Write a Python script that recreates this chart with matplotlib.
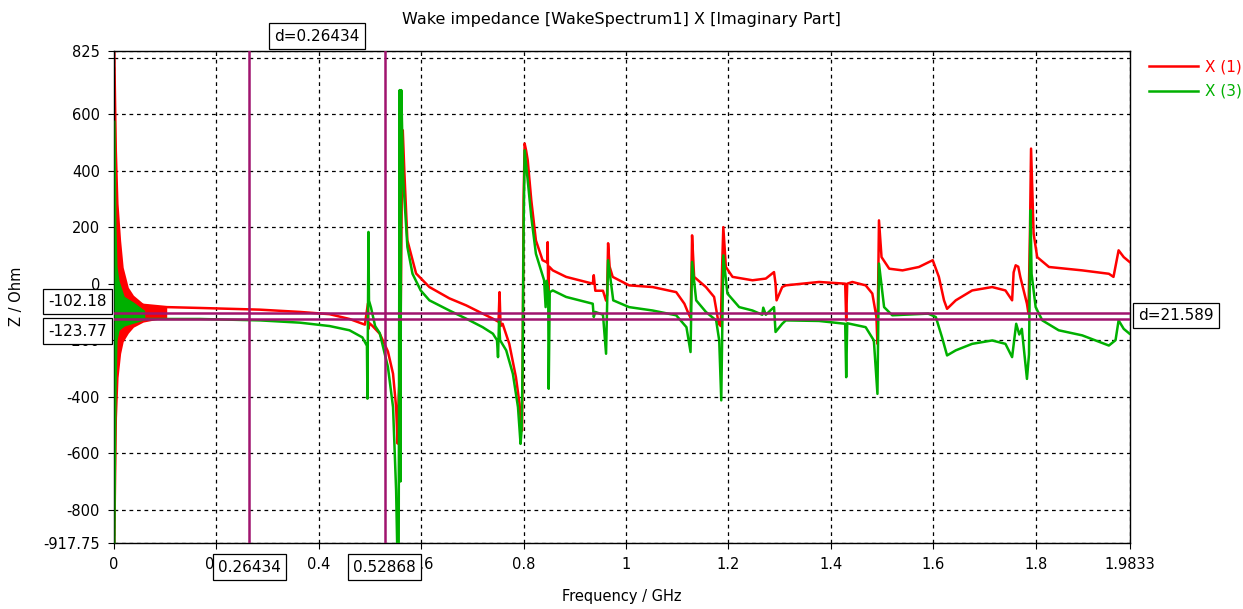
import matplotlib
matplotlib.use("Agg")
import matplotlib.pyplot as plt

# Near-zero ringing envelopes (GHz, Ohm)
red_band_f = [0.0, 0.002, 0.005, 0.008, 0.013, 0.018, 0.028, 0.038, 0.057, 0.08, 0.103]
red_band_hi = [825, 825, 472, 284, 153, 58, -13, -41, -70, -78, -83]
red_band_lo = [-917.75, -917.75, -474, -332, -247, -205, -175, -154, -136, -128, -122]

green_band_f = [0.0, 0.002, 0.004, 0.006, 0.01, 0.02, 0.038, 0.06]
green_band_hi = [579, 579, 200, 60, 10, -45, -65, -95]
green_band_lo = [-917.75, -917.75, -400, -200, -165, -150, -140, -128]

# X (1)
red_f = [0.057, 0.103, 0.168, 0.285, 0.363, 0.421, 0.46, 0.49, 0.496, 0.497, 0.499, 0.505,
         0.519, 0.535, 0.545, 0.551, 0.554, 0.556, 0.559, 0.562, 0.564, 0.567, 0.573, 0.590,
         0.616, 0.655, 0.688, 0.720, 0.740, 0.751, 0.753, 0.755, 0.759, 0.772, 0.785, 0.792,
         0.795, 0.797, 0.798, 0.800, 0.802, 0.805, 0.808, 0.815, 0.824, 0.837, 0.846, 0.847,
         0.848, 0.850, 0.857, 0.883, 0.935, 0.937, 0.940, 0.955, 0.961, 0.963, 0.965, 0.968,
         0.974, 1.006, 1.052, 1.098, 1.114, 1.122, 1.126, 1.128, 1.129, 1.133, 1.156, 1.172,
         1.181, 1.185, 1.188, 1.190, 1.195, 1.208, 1.247, 1.273, 1.289, 1.292, 1.294, 1.305,
         1.312, 1.377, 1.428, 1.430, 1.432, 1.442, 1.468, 1.481, 1.489, 1.491, 1.494, 1.499,
         1.514, 1.540, 1.572, 1.599, 1.611, 1.621, 1.627, 1.644, 1.676, 1.715, 1.741, 1.754,
         1.757, 1.761, 1.766, 1.770, 1.776, 1.783, 1.786, 1.789, 1.791, 1.796, 1.803, 1.826,
         1.891, 1.943, 1.952, 1.962, 1.972, 1.9833]
red_z = [-75, -83, -86, -92, -100, -108, -125, -145, -70, -160, -140, -150,
         -177, -240, -319, -437, -566, -400, -300, 300, 543, 400, 153, 36,
         -12, -52, -77, -106, -124, -135, -30, -150, -142, -213, -331, -425,
         -496, -520, -300, 300, 496, 470, 437, 295, 153, 83, 75, 147,
         -35, 60, 47, 24, 0, 30, -25, -25, -60, -40, 143, 60,
         24, -6, -12, -30, -71, -106, -120, 50, 171, 24, -12, -47,
         -142, -150, 80, 200, 59, 24, 12, 18, 41, 0, -59, -12,
         -6, 6, 0, -130, 0, 6, -6, -35, -118, -213, 224, 94,
         53, 47, 59, 83, 24, -59, -89, -59, -24, -12, -24, -59,
         40, 65, 60, 24, -20, -71, -106, 200, 478, 177, 94, 59,
         47, 35, 24, 118, 94, 77]

# X (3)
green_f = [0.057, 0.168, 0.285, 0.363, 0.421, 0.46, 0.485, 0.494, 0.495, 0.497, 0.498, 0.502,
           0.510, 0.519, 0.535, 0.545, 0.551, 0.553, 0.556, 0.558, 0.5595, 0.561, 0.565, 0.573,
           0.583, 0.599, 0.616, 0.655, 0.688, 0.720, 0.740, 0.748, 0.750, 0.752, 0.754, 0.766,
           0.779, 0.789, 0.794, 0.796, 0.798, 0.800, 0.802, 0.808, 0.815, 0.824, 0.840, 0.843,
           0.845, 0.848, 0.849, 0.851, 0.857, 0.883, 0.935, 0.937, 0.940, 0.955, 0.961, 0.965,
           0.975, 1.006, 1.052, 1.098, 1.118, 1.126, 1.129, 1.137, 1.156, 1.176, 1.182, 1.186,
           1.190, 1.198, 1.221, 1.247, 1.266, 1.268, 1.273, 1.289, 1.292, 1.305, 1.312, 1.377,
           1.428, 1.430, 1.432, 1.468, 1.484, 1.491, 1.494, 1.504, 1.520, 1.590, 1.605, 1.617,
           1.627, 1.644, 1.676, 1.715, 1.741, 1.754, 1.762, 1.768, 1.773, 1.783, 1.787, 1.790,
           1.792, 1.800, 1.813, 1.845, 1.891, 1.943, 1.956, 1.962, 1.972, 1.9833]
green_z = [-125, -125, -130, -138, -150, -165, -190, -220, -407, 183, -60, -85,
           -150, -175, -295, -437, -732, -917.75, -917.75, 685, -700, 685, 366, 130,
           35, -24, -59, -95, -124, -154, -177, -200, -260, -130, -200, -236,
           -319, -437, -567, -520, -300, 200, 472, 366, 236, 106, 12, -83,
           10, -20, -372, -30, -24, -47, -71, -118, -100, -110, -248, 83,
           -59, -83, -95, -112, -154, -242, 77, -59, -100, -130, -201, -413,
           100, -35, -83, -95, -110, -85, -110, -83, -171, -142, -130, -132,
           -142, -331, -140, -154, -201, -390, 71, -83, -112, -106, -118, -189,
           -254, -236, -213, -201, -213, -260, -142, -180, -160, -337, -250, 260,
           35, -83, -130, -165, -183, -219, -200, -130, -160, -177]

x_ticks = [0, 0.2, 0.4, 0.6, 0.8, 1.0, 1.2, 1.4, 1.6, 1.8, 1.9833]
x_labels = ["0", "0.2", "0.4", "0.6", "0.8", "1", "1.2", "1.4", "1.6", "1.8", "1.9833"]
y_ticks = [-917.75, -800, -600, -400, -200, 0, 200, 400, 600, 800, 825]
y_labels = ["-917.75", "-800", "-600", "-400", "-200", "0", "200", "400", "600", "", "825"]

marker_f = [0.26434, 0.52868]
marker_z = [-102.18, -123.77]
marker_f_labels = ["0.26434", "0.52868"]
marker_z_labels = ["-102.18", "-123.77"]
delta_f_label = "d=0.26434"
delta_z_label = "d=21.589"

RED = "#ff0000"
GREEN = "#00b000"
PURPLE = "#a0146e"

plt.rcParams["font.family"] = ["DejaVu Sans"]
plt.rcParams["font.size"] = 10

fig = plt.figure(figsize=(12.43, 6.09), dpi=100)
ax = fig.add_axes([0.0917, 0.1084, 0.8170, 0.8086])

ax.fill_between(red_band_f, red_band_lo, red_band_hi, color=RED, lw=0, zorder=2)
ax.plot(red_f, red_z, color=RED, lw=1.8, label="X (1)", zorder=3)
ax.fill_between(green_band_f, green_band_lo, green_band_hi, color=GREEN, lw=0, zorder=4)
ax.plot(green_f, green_z, color=GREEN, lw=1.8, label="X (3)", zorder=5)

for f in marker_f:
    ax.axvline(f, color=PURPLE, lw=1.8, zorder=6)
for z in marker_z:
    ax.axhline(z, color=PURPLE, lw=1.8, zorder=6)

ax.set_xlim(0, 1.9833)
ax.set_ylim(-917.75, 825)
ax.set_xticks(x_ticks)
ax.set_xticklabels(x_labels)
ax.set_yticks(y_ticks)
ax.set_yticklabels(y_labels)
ax.tick_params(direction="out", length=4, width=0.8, color="black", pad=6, labelsize=10.5)
ax.grid(True, color="black", linestyle=(0, (3, 3)), lw=0.9)
for s in ax.spines.values():
    s.set_linewidth(1.0)

ax.set_title("Wake impedance [WakeSpectrum1] X [Imaginary Part]", fontsize=11.5, pad=19)
ax.set_xlabel("Frequency / GHz", fontsize=10.5, labelpad=12)
ax.set_ylabel("Z / Ohm", fontsize=10.5, labelpad=14)

box = dict(boxstyle="square,pad=0.35", fc="white", ec="black", lw=0.9)
# d marker on top
ax.annotate(delta_f_label, xy=(sum(marker_f) / 2, 1), xycoords=("data", "axes fraction"),
            xytext=(0, 5), textcoords="offset points", ha="center", va="bottom",
            fontsize=11, bbox=box, annotation_clip=False, zorder=10)
# x marker labels
for f, lab in zip(marker_f, marker_f_labels):
    ax.annotate(lab, xy=(f, 0), xycoords=("data", "axes fraction"), xytext=(0, -12),
                textcoords="offset points", ha="center", va="top", fontsize=11, bbox=box,
                annotation_clip=False, zorder=10)
# y marker labels
ax.annotate(marker_z_labels[0], xy=(0, marker_z[0]), xycoords=("axes fraction", "data"),
            xytext=(-5, 8), textcoords="offset points", ha="right", va="center",
            fontsize=11, bbox=box, annotation_clip=False, zorder=10)
ax.annotate(marker_z_labels[1], xy=(0, marker_z[1]), xycoords=("axes fraction", "data"),
            xytext=(-5, -9), textcoords="offset points", ha="right", va="center",
            fontsize=11, bbox=box, annotation_clip=False, zorder=10)
ax.annotate(delta_z_label, xy=(1, sum(marker_z) / 2),
            xycoords=("axes fraction", "data"), xytext=(6, 0), textcoords="offset points",
            ha="left", va="center", fontsize=11, bbox=box, annotation_clip=False, zorder=10)

leg = ax.legend(loc="upper left", bbox_to_anchor=(1.01, 1.0), frameon=False, fontsize=11,
                handlelength=3.2, handletextpad=0.5, labelspacing=0.6, borderaxespad=0.2)
for txt, col in zip(leg.get_texts(), [RED, GREEN]):
    txt.set_color(col)

fig.savefig("out.png", dpi=100)
